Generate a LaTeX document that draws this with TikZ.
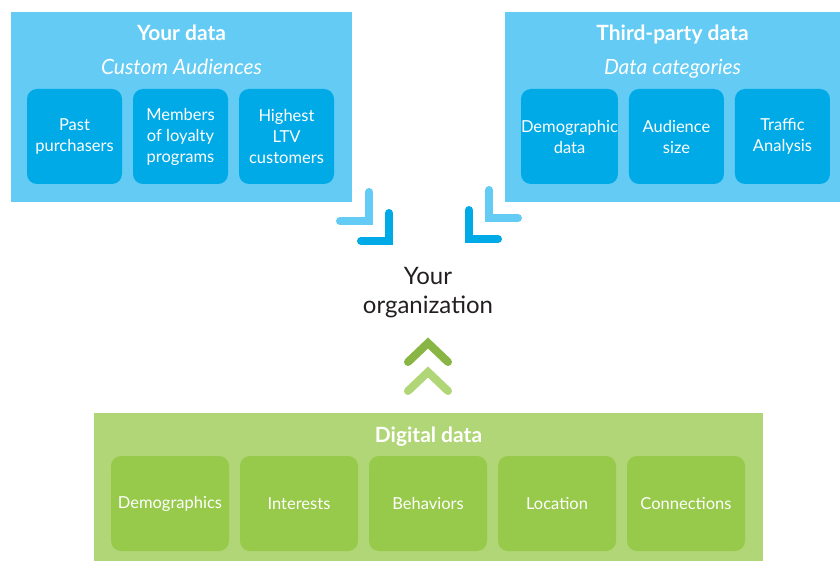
\documentclass[tikz,border=0pt]{standalone}
\usepackage{fontspec}
\setmainfont{Lato}
\usetikzlibrary{positioning}
\definecolor{skyblue}{HTML}{63CBF4}
\definecolor{deepblue}{HTML}{00AAE6}
\definecolor{palegreen}{HTML}{B1D677}
\definecolor{leafgreen}{HTML}{97C94A}
\definecolor{inkgray}{HTML}{231F20}

\begin{document}
\begin{tikzpicture}[x=1pt, y=-1pt,
  panel/.style = {inner sep=0, outer sep=0, anchor=north west},
  head/.style = {text=white, text height=15pt, text depth=5pt, font=\fontsize{21}{24}\selectfont\bfseries},
  sub/.style = {text=white, text height=15pt, text depth=5pt, font=\fontsize{21}{24}\selectfont\itshape},
  cell/.style = {rounded corners=10pt, minimum height=95pt, inner sep=0, outer sep=0,
                 text=white, align=center, font=\fontsize{16.5}{21}\selectfont},
  bluecell/.style = {cell, fill=deepblue, minimum width=95pt},
  greencell/.style = {cell, fill=leafgreen, minimum width=118pt},
  chev/.style = {line width=8pt, line cap=round}]
\useasboundingbox (0,0) rectangle (840,561);

% your data
\node[panel, fill=skyblue, minimum width=341pt, minimum height=190pt] (yours) at (11,12) {};
\node[head] (yourshead) at (181.5,36) {Your data};
\node[sub] (yourssub) at (181.5,70) {Custom Audiences};
\node[bluecell, anchor=north west] (past) at (27,89) {Past\\purchasers};
\node[bluecell, right=11pt of past] (loyal) {Members\\of loyalty\\programs};
\node[bluecell, right=11pt of loyal] (ltv) {Highest\\LTV\\customers};

% third-party data
\node[panel, fill=skyblue, minimum width=335pt, minimum height=190pt] (third) at (505,12) {};
\node[head] (thirdhead) at (672.5,36) {Third-party data};
\node[sub] (thirdsub) at (672.5,70) {Data categories};
\node[bluecell, anchor=north west] (demo) at (521,89) {Demographic\\data};
\node[bluecell, right=11pt of demo] (size) {Audience\\size};
\node[bluecell, right=11pt of size] (traffic) {Traffic\\Analysis};

% digital data
\node[panel, fill=palegreen, minimum width=669pt, minimum height=148pt] (digital) at (94,413) {};
\node[head] (digitalhead) at (428.5,437) {Digital data};
\node[greencell, anchor=north west] (demog) at (111,456) {Demographics};
\node[greencell, right=11pt of demog] (interests) {Interests};
\node[greencell, right=11pt of interests] (behav) {Behaviors};
\node[greencell, right=11pt of behav] (loc) {Location};
\node[greencell, right=11pt of loc] (conn) {Connections};

% centre
\node[text=inkgray, align=center, font=\fontsize{24}{29}\selectfont] (org) at (428,293) {Your\\organization};

% chevrons
\draw[chev, skyblue] (369,192) -- (369,221) -- (340,221);
\draw[chev, deepblue] (389,213) -- (389,241) -- (361,241);
\draw[chev, skyblue] (489,190) -- (489,218) -- (518,218);
\draw[chev, deepblue] (469,210) -- (469,239) -- (498,239);
\draw[chev, leafgreen!90!black] (408,362) -- (428,343) -- (448,362);
\draw[chev, palegreen] (408,391) -- (428,372) -- (448,391);
\end{tikzpicture}
\end{document}
